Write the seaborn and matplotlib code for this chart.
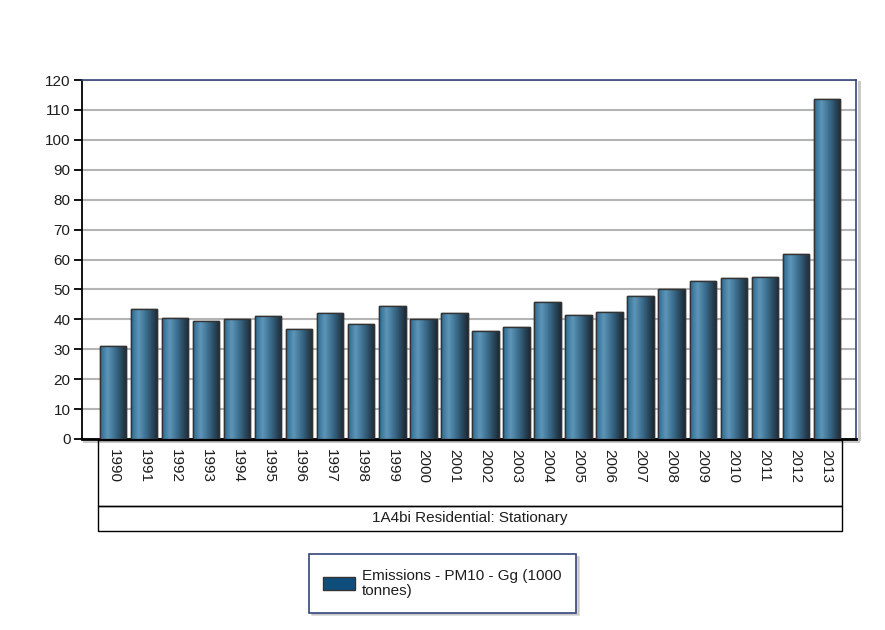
import numpy as np
import pandas as pd
import seaborn as sns
import matplotlib.pyplot as plt
from matplotlib.colors import LinearSegmentedColormap
from matplotlib.patches import Rectangle, Patch
from matplotlib import transforms

# data
years = [str(y) for y in range(1990, 2014)]
pm10 = [31.0, 43.5, 40.5, 39.6, 40.0, 41.0, 36.8, 42.0, 38.6, 44.4,
        40.0, 42.0, 36.2, 37.6, 45.8, 41.4, 42.3, 47.7, 50.0, 52.9,
        53.9, 54.3, 62.0, 113.5]
category = "1A4bi Residential: Stationary"
series_name = "Emissions - PM10 - Gg (1000\ntonnes)"

df = pd.DataFrame({"year": years, "value": pm10})

sns.set_theme(style="white")
plt.rcParams['font.family'] = ['Liberation Sans', 'DejaVu Sans']

fig = plt.figure(figsize=(8.85, 6.3), dpi=100)
ax = fig.add_axes([81.5 / 885, 1 - 439 / 630, (856 - 81.5) / 885, (439 - 80) / 630])

sns.barplot(data=df, x="year", y="value", color="#2f6a8e", width=0.84,
            edgecolor="#333333", linewidth=1.0, saturation=1, ax=ax, zorder=3)

# cylinder-like shading on each bar
grad = LinearSegmentedColormap.from_list(
    "bar", [(0.0, "#2c6a90"), (0.28, "#5e96b8"), (0.55, "#3d7090"), (1.0, "#1b2a36")])
g = np.linspace(0, 1, 64).reshape(1, -1)
for p in ax.patches:
    x0, y0 = p.get_x(), p.get_y()
    w, h = p.get_width(), p.get_height()
    im = ax.imshow(g, cmap=grad, aspect="auto", extent=[x0, x0 + w, y0, y0 + h],
                   zorder=3.5, interpolation="bilinear")
    im.set_clip_path(p)
    edge = Rectangle((x0, y0), w, h, fill=False, edgecolor="#333333", lw=1.0, zorder=4)
    ax.add_patch(edge)

ax.set_xlim(-1.03, 23.95)
ax.set_ylim(0, 120)
ax.set_yticks(np.arange(0, 121, 10))
ax.yaxis.grid(True, color="#b4b4b4", lw=1.5, zorder=0)
ax.set_axisbelow(True)
ax.set_xlabel("")
ax.set_ylabel("")

fs = 11
ax.tick_params(axis="y", length=6, width=1.3, color="black", labelsize=fs,
               labelcolor="#1e1e1e", pad=2, left=True)
ax.tick_params(axis="x", length=0, labelsize=fs, labelcolor="#1e1e1e", pad=7)
for lbl in ax.get_xticklabels():
    lbl.set_rotation(270)
    lbl.set_va("top")
    lbl.set_ha("center")

ax.spines["left"].set_color("black")
ax.spines["left"].set_linewidth(1.3)
ax.spines["bottom"].set_color("black")
ax.spines["bottom"].set_linewidth(2.0)
for s in ["top", "right"]:
    ax.spines[s].set_color("#33467a")
    ax.spines[s].set_linewidth(1.2)

# drop shadow of the plot frame
fig.add_artist(Rectangle((858 / 885, 1 - 441 / 630), 2.5 / 885, 360 / 630,
                         transform=fig.transFigure, color="#c8c8c8", lw=0, zorder=0))
fig.add_artist(Rectangle((83 / 885, 1 - 443 / 630), 777 / 885, 2.5 / 630,
                         transform=fig.transFigure, color="#c8c8c8", lw=0, zorder=0))

# boxes for tick labels and category
trans = transforms.blended_transform_factory(ax.transData, fig.transFigure)
y_top, y_mid, y_bot = 1 - 440 / 630, 1 - 505.5 / 630, 1 - 530.5 / 630
ax.add_patch(Rectangle((-0.5, y_mid), 24, y_top - y_mid, transform=trans, fill=False,
                       edgecolor="black", lw=1.0, clip_on=False))
ax.add_patch(Rectangle((-0.5, y_bot), 24, y_mid - y_bot, transform=trans, fill=False,
                       edgecolor="black", lw=1.0, clip_on=False))
ax.text(11.5, (y_mid + y_bot) / 2, category, transform=trans, ha="center", va="center",
        fontsize=fs, color="#1e1e1e")

# legend
handle = Patch(facecolor="#0f4d7c", edgecolor="#333333", lw=1.0, label=series_name)
leg = fig.legend(handles=[handle], loc="center", bbox_to_anchor=(442.5 / 885, 1 - 583.5 / 630),
                 fontsize=fs, frameon=True, fancybox=False, shadow={"color": "#b0b0b0"},
                 handlelength=2.1, handleheight=0.95, handletextpad=0.45,
                 borderpad=0.95, borderaxespad=0)
leg.get_frame().set_edgecolor("#33467a")
leg.get_frame().set_linewidth(1.2)
for t in leg.get_texts():
    t.set_color("#1e1e1e")
    t.set_linespacing(1.1)

fig.savefig("out.png", dpi=100, facecolor="white")
